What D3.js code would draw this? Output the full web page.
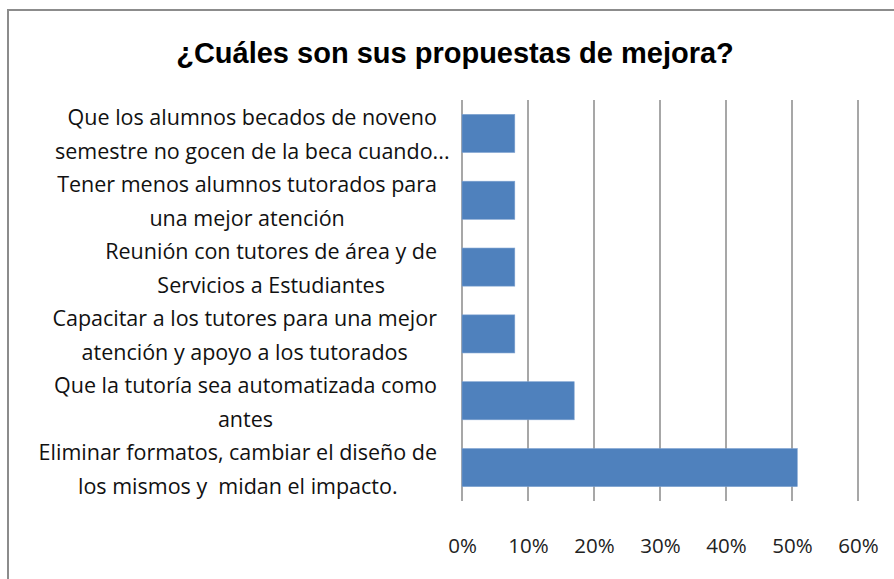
<!DOCTYPE html>
<html><head><meta charset="utf-8">
<script src="https://cdn.jsdelivr.net/npm/d3@7"></script>
<style>body{margin:0;background:#fff}svg{display:block}text{white-space:pre}</style>
</head><body>
<script>
const title = "¿Cuáles son sus propuestas de mejora?";
const categories = [
  ["Que los alumnos becados de noveno", "semestre no gocen de la beca cuando..."],
  ["Tener menos alumnos tutorados para", "una mejor atención"],
  ["Reunión con tutores de área y de", "Servicios a Estudiantes"],
  ["Capacitar a los tutores para una mejor", "atención y apoyo a los tutorados"],
  ["Que la tutoría sea automatizada como", "antes"],
  ["Eliminar formatos, cambiar el diseño de", "los mismos y  midan el impacto."]
];
const values = [0.08, 0.08, 0.08, 0.08, 0.17, 0.508];
const tickValues = [0, 0.1, 0.2, 0.3, 0.4, 0.5, 0.6];

const W = 894, H = 579;
const svg = d3.select("body").append("svg").attr("width", W).attr("height", H);

svg.append("line").attr("x1", 7).attr("x2", W).attr("y1", 10).attr("y2", 10)
  .attr("stroke", "#8c8c8c").attr("stroke-width", 2);
svg.append("line").attr("x1", 8).attr("x2", 8).attr("y1", 10).attr("y2", H)
  .attr("stroke", "#8c8c8c").attr("stroke-width", 2);

svg.append("text").attr("x", 455).attr("y", 63).attr("text-anchor", "middle")
  .attr("font-family", "Liberation Sans, Arial, sans-serif").attr("font-size", 29)
  .attr("font-weight", "bold").attr("fill", "#000").text(title);

const x0 = 462, x1 = 858, yTop = 100, yBot = 501;
const x = d3.scaleLinear().domain([0, 0.6]).range([x0, x1]);
const y = d3.scaleBand().domain(d3.range(categories.length)).range([yTop, yBot]).paddingInner(0.43).paddingOuter(0.215);

svg.append("g").selectAll("line").data(tickValues).join("line")
  .attr("x1", d => x(d)).attr("x2", d => x(d))
  .attr("y1", yTop).attr("y2", yBot)
  .attr("stroke", "#8a8a8a").attr("stroke-width", 1.5);

svg.append("g").selectAll("rect").data(values).join("rect")
  .attr("x", x(0)).attr("y", (d, i) => y(i))
  .attr("width", d => x(d) - x(0)).attr("height", y.bandwidth())
  .attr("fill", "#4F81BD").attr("stroke", "#7ea2d0").attr("stroke-width", 0.6);

const labelFont = "Open Sans, Lato, sans-serif";
const xAxis = d3.axisBottom(x).tickValues(tickValues).tickFormat(d3.format(".0%")).tickSize(0).tickPadding(0);
const ax = svg.append("g").attr("transform", `translate(0,${yBot + 52})`).call(xAxis);
ax.select(".domain").remove();
ax.selectAll("text").attr("font-family", labelFont).attr("font-size", 20.5).attr("fill", "#222").attr("dy", 0);

const fs = 21.5;
const lg = svg.append("g");
categories.forEach((lines, i) => {
  const cy = y(i) + y.bandwidth() / 2 + 2;
  const g = lg.append("g");
  const texts = lines.map((ln, j) => g.append("text")
    .attr("font-family", labelFont).attr("font-size", fs).attr("fill", "#111")
    .attr("text-anchor", "middle")
    .attr("y", cy + (j - (lines.length - 1) / 2) * 34 + 7)
    .text(ln));
  const widths = texts.map(t => t.node().getComputedTextLength());
  let cx;
  if (lines[lines.length - 1].endsWith("...")) {
    cx = 437 - widths[0] / 2;
  } else {
    cx = 437 - d3.max(widths) / 2;
  }
  texts.forEach(t => t.attr("x", cx));
});
</script>
</body></html>
